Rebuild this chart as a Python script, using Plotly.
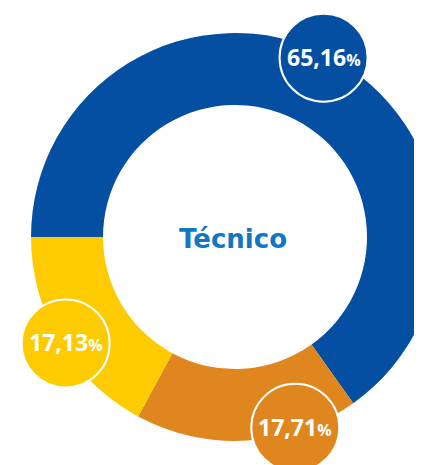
import math

import plotly.graph_objects as go

# ---------------------------------------------------------------------------
# data
# ---------------------------------------------------------------------------
categories = ["Azul", "Laranja", "Amarelo"]
values = [65.16, 17.71, 17.13]
value_labels = ["65,16", "17,71", "17,13"]
colors = ["#054fa3", "#e0861e", "#fecb00"]
center_title = "Técnico"

# ---------------------------------------------------------------------------
# geometry (pixels, page body has an 8px margin)
# ---------------------------------------------------------------------------
W, H = 440, 465
CX, CY = 227, 229          # donut centre
R_OUT = 204
HOLE = 0.647
R_LABEL = 200
R_BUBBLE = 44
START_DEG = 270            # first slice starts at 9 o'clock, clockwise
label_nudge = [-1.0, -14, -1.3]

fig = go.Figure()

fig.add_trace(
    go.Pie(
        labels=categories,
        values=values,
        marker=dict(colors=colors, line=dict(width=0)),
        hole=HOLE,
        sort=False,
        direction="clockwise",
        rotation=-90,
        textinfo="none",
        hoverinfo="skip",
        showlegend=False,
        domain=dict(
            x=[(CX - R_OUT) / W, (CX + R_OUT) / W],
            y=[(H - CY - R_OUT) / H, (H - CY + R_OUT) / H],
        ),
    )
)

# ----- label bubbles at each slice's mid angle ------------------------------
total = sum(values)
cum = 0.0
for v, lab, nudge, col in zip(values, value_labels, label_nudge, colors):
    mid = START_DEG + (cum + v / 2) / total * 360 + nudge
    cum += v
    a = math.radians(mid)
    bx = CX + R_LABEL * math.sin(a)
    by = CY - R_LABEL * math.cos(a)
    fig.add_shape(
        type="circle",
        xref="x", yref="y",
        x0=bx - R_BUBBLE, x1=bx + R_BUBBLE,
        y0=by - R_BUBBLE, y1=by + R_BUBBLE,
        fillcolor=col,
        line=dict(color="white", width=2),
        layer="above",
    )
    fig.add_annotation(
        x=bx, y=by - 1, xref="x", yref="y",
        text=f"<b>{lab}<span style='font-size:16px'>%</span></b>",
        showarrow=False,
        font=dict(family="Open Sans", size=23, color="white"),
    )

fig.add_annotation(
    x=CX - 2, y=CY + 2, xref="x", yref="y",
    text=f"<b>{center_title}</b>",
    showarrow=False,
    font=dict(family="DejaVu Sans", size=26, color="#1276c1"),
)

fig.update_layout(
    width=W,
    height=H,
    margin=dict(l=0, r=0, t=0, b=0),
    paper_bgcolor="white",
    plot_bgcolor="rgba(0,0,0,0)",
    xaxis=dict(range=[0, W], visible=False, fixedrange=True),
    yaxis=dict(range=[H, 0], visible=False, fixedrange=True),
)

fig.write_html("out.html")
